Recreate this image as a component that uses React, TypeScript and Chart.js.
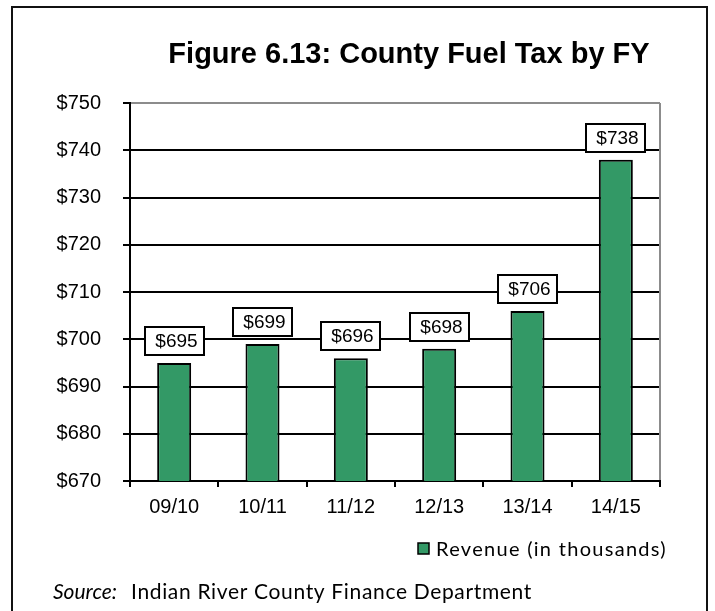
import React, { useEffect, useRef } from 'react';
import { Chart, registerables } from 'chart.js';

Chart.register(...registerables);

const categories = ['09/10', '10/11', '11/12', '12/13', '13/14', '14/15'];
const revenue = [695, 699, 696, 698, 706, 738];
const seriesLabel = 'Revenue (in thousands)';
const titleText = 'Figure 6.13: County Fuel Tax by FY';
const sourceLabel = 'Source:';
const sourceText = 'Indian River County Finance Department';
const yMin = 670;
const yMax = 750;
const yStep = 10;

const BAR_COLOR = '#339966';

function fitText(ctx: CanvasRenderingContext2D, text: string, x: number, y: number, width: number) {
  (ctx as any).letterSpacing = '0px';
  const w = ctx.measureText(text).width;
  const n = text.length;
  const ls = n > 1 ? (width - w) / n : 0;
  (ctx as any).letterSpacing = ls + 'px';
  ctx.fillText(text, x, y);
  (ctx as any).letterSpacing = '0px';
}

const decorPlugin = {
  id: 'decor',
  afterDatasetsDraw(chart: any) {
    const ctx: CanvasRenderingContext2D = chart.ctx;
    const meta = chart.getDatasetMeta(0);
    const data = chart.data.datasets[0].data as number[];
    ctx.save();
    ctx.font = '19px "Liberation Sans", Arial, sans-serif';
    meta.data.forEach((bar: any, i: number) => {
      const txt = '$' + data[i];
      const tw = ctx.measureText(txt).width;
      const w = Math.round(tw + 17);
      const h = 28;
      const bottom = bar.y - 8;
      const left = Math.round(bar.x - w / 2);
      const top = Math.round(bottom - h);
      ctx.fillStyle = '#ffffff';
      ctx.fillRect(left, top, w, h);
      ctx.lineWidth = 2;
      ctx.strokeStyle = '#000000';
      ctx.strokeRect(left, top, w, h);
      ctx.fillStyle = '#000000';
      ctx.textAlign = 'center';
      ctx.textBaseline = 'middle';
      ctx.fillText(txt, left + w / 2 + 2, top + h / 2 + 1);
    });
    ctx.restore();
  },
  afterDraw(chart: any) {
    const ctx: CanvasRenderingContext2D = chart.ctx;
    const ca = chart.chartArea;
    ctx.save();
    // gray right border of plot area
    ctx.strokeStyle = '#8c8c8c';
    ctx.lineWidth = 2;
    ctx.beginPath();
    ctx.moveTo(ca.right, ca.top);
    ctx.lineTo(ca.right, ca.bottom - 1);
    ctx.stroke();

    // outer frame
    ctx.strokeStyle = '#111111';
    ctx.lineWidth = 2;
    ctx.strokeRect(12, 7, 695, 700);

    // title
    ctx.fillStyle = '#000000';
    ctx.font = 'bold 29px "Liberation Sans", Arial, sans-serif';
    ctx.textAlign = 'center';
    ctx.textBaseline = 'alphabetic';
    ctx.fillText(titleText, 409, 63);

    // legend
    const label = chart.data.datasets[0].label as string;
    ctx.fillStyle = BAR_COLOR;
    ctx.fillRect(418, 543, 11, 11);
    ctx.strokeStyle = '#000000';
    ctx.lineWidth = 1.5;
    ctx.strokeRect(418, 543, 11, 11);
    ctx.fillStyle = '#000000';
    ctx.textAlign = 'left';
    ctx.font = '20px Lato, "Open Sans", sans-serif';
    fitText(ctx, label, 436, 556, 231);

    // source
    ctx.font = 'italic 21px Lato, "Open Sans", sans-serif';
    ctx.fillText(sourceLabel, 53, 599);
    ctx.font = '21px Lato, "Open Sans", sans-serif';
    fitText(ctx, sourceText, 131, 599, 401);
    ctx.restore();
  },
};

export default function App() {
  const canvasRef = useRef<HTMLCanvasElement | null>(null);

  useEffect(() => {
    if (!canvasRef.current) return;
    const chart = new Chart(canvasRef.current, {
      type: 'bar',
      data: {
        labels: categories,
        datasets: [
          {
            label: seriesLabel,
            data: revenue,
            backgroundColor: BAR_COLOR,
            borderColor: '#000000',
            borderWidth: 2,
            borderSkipped: false,
            categoryPercentage: 1,
            barPercentage: 0.385,
          },
        ],
      },
      options: {
        animation: false,
        responsive: false,
        devicePixelRatio: 1,
        layout: { padding: { top: 103, right: 55, left: 0, bottom: 0 } },
        plugins: {
          legend: { display: false },
          title: { display: false },
          tooltip: { enabled: false },
        },
        scales: {
          x: {
            afterFit: (scale: any) => {
              scale.height = 130;
            },
            grid: {
              display: true,
              offset: true,
              drawOnChartArea: false,
              drawTicks: true,
              tickLength: 6,
              color: '#000000',
              lineWidth: 2,
            },
            border: { display: true, color: '#000000', width: 2 },
            ticks: {
              color: '#000000',
              padding: 8,
              font: { family: '"Liberation Sans", Arial, sans-serif', size: 20 },
            },
          },
          y: {
            min: yMin,
            max: yMax,
            afterFit: (scale: any) => {
              scale.width = 130;
            },
            grid: {
              color: (c: any) => (c.tick && c.tick.value === yMax ? '#8c8c8c' : '#000000'),
              tickColor: '#000000',
              lineWidth: 2,
              drawTicks: true,
              tickLength: 7,
            },
            border: { display: true, color: '#000000', width: 2 },
            ticks: {
              stepSize: yStep,
              color: '#000000',
              padding: 22,
              font: { family: '"Liberation Sans", Arial, sans-serif', size: 20 },
              callback: (v: any) => '$' + v,
            },
          },
        },
      },
      plugins: [decorPlugin],
    });
    return () => chart.destroy();
  }, []);

  return (
    <div style={{ position: 'fixed', left: 0, top: 0, width: 715, height: 611, background: '#ffffff' }}>
      <canvas ref={canvasRef} width={715} height={611} style={{ width: 715, height: 611, display: 'block' }} />
    </div>
  );
}
